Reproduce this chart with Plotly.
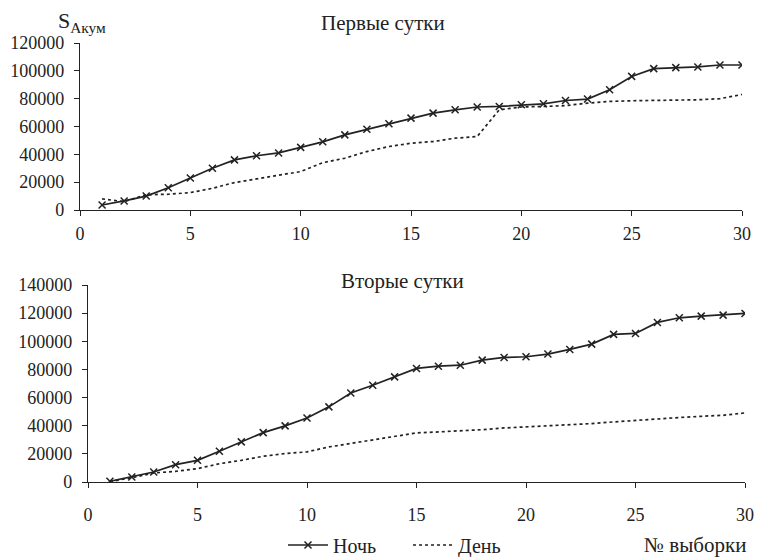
import plotly.graph_objects as go

x_vals = list(range(1, 31))

night_day1 = [3600, 6500, 10000, 16000, 23000, 30000, 36000, 39000, 41000, 45000,
              49000, 54000, 58000, 62000, 66000, 69600, 72000, 74000, 74400, 75600,
              76300, 78700, 79700, 86400, 96000, 101600, 102300, 102800, 104200, 104200]
day_day1 = [8000, 6000, 11000, 11300, 12500, 15600, 19700, 22300, 25200, 27600,
            34000, 37200, 42000, 45600, 48000, 49200, 51600, 52800, 72000, 74000,
            74400, 75000, 76800, 78000, 78500, 78700, 79200, 79200, 80000, 83000]

night_day2 = [500, 3600, 7100, 12300, 15400, 21800, 28500, 35100, 39900, 45500,
              53400, 63300, 68800, 74700, 80700, 82300, 83000, 86600, 88500, 89000,
              90900, 94200, 98000, 104900, 105600, 113400, 116700, 117900, 118600, 119800]
day_day2 = [300, 3000, 6400, 7600, 9500, 13000, 15400, 18300, 20200, 21400,
            24900, 27300, 29700, 32000, 34900, 35600, 36300, 37200, 38400, 39100,
            39900, 40300, 41500, 42700, 43900, 44600, 45800, 46700, 47400, 49100]

x_ticks = [0, 5, 10, 15, 20, 25, 30]
y_ticks_top = [0, 20000, 40000, 60000, 80000, 100000, 120000]
y_ticks_bot = [0, 20000, 40000, 60000, 80000, 100000, 120000, 140000]

FONT = "Liberation Serif, DejaVu Serif, Times New Roman, serif"
INK = "#222222"

fig = go.Figure()

night_style = dict(mode="lines+markers", line=dict(color=INK, width=1.7),
                   marker=dict(symbol="x-thin", size=7, line=dict(color=INK, width=1.5)))
day_style = dict(mode="lines", line=dict(color=INK, width=1.7, dash="dot"))

fig.add_trace(go.Scatter(x=x_vals, y=night_day1, name="Ночь", xaxis="x", yaxis="y",
                         showlegend=True, **night_style))
fig.add_trace(go.Scatter(x=x_vals, y=day_day1, name="День", xaxis="x", yaxis="y",
                         showlegend=True, **day_style))
fig.add_trace(go.Scatter(x=x_vals, y=night_day2, name="Ночь", xaxis="x2", yaxis="y2",
                         showlegend=False, **night_style))
fig.add_trace(go.Scatter(x=x_vals, y=day_day2, name="День", xaxis="x2", yaxis="y2",
                         showlegend=False, **day_style))

W, H = 757, 557

def xd(a, b):
    return [a / W, b / W]

def yd(top, bottom):
    return [1 - bottom / H, 1 - top / H]

axis_common = dict(showgrid=False, zeroline=False, showline=True, linecolor=INK,
                   linewidth=1.3, ticks="outside", ticklen=5, tickcolor=INK,
                   tickformat="d",
                   tickfont=dict(family=FONT, size=18, color=INK))

fig.update_layout(
    width=W, height=H,
    margin=dict(l=0, r=0, t=0, b=0, autoexpand=False),
    paper_bgcolor="white", plot_bgcolor="white",
    font=dict(family=FONT, size=18, color=INK),
    xaxis=dict(domain=xd(80, 742), range=[0, 30], tickvals=x_ticks, anchor="y",
               ticklabelstandoff=2, **axis_common),
    yaxis=dict(domain=yd(43, 210), range=[0, 120000], tickvals=y_ticks_top, anchor="x",
               ticklabelstandoff=6, **axis_common),
    xaxis2=dict(domain=xd(88, 745), range=[0, 30], tickvals=x_ticks, anchor="y2",
                ticklabelstandoff=11, **axis_common),
    yaxis2=dict(domain=yd(285, 482), range=[0, 140000], tickvals=y_ticks_bot, anchor="x2",
                ticklabelstandoff=6, **axis_common),
    legend=dict(orientation="h", x=283 / W, y=1 - 545 / H, xanchor="left", yanchor="middle",
                font=dict(family=FONT, size=20, color=INK), bgcolor="rgba(0,0,0,0)",
                itemwidth=40, tracegroupgap=0, entrywidth=70, entrywidthmode="pixels"),
    showlegend=True,
)

fig.add_annotation(text="Первые сутки", x=383 / W, y=1 - 23 / H, xref="paper", yref="paper",
                   yanchor="middle", showarrow=False, font=dict(family=FONT, size=21, color=INK))
fig.add_annotation(text="Вторые сутки", x=402 / W, y=1 - 281 / H, xref="paper", yref="paper",
                   yanchor="middle", showarrow=False, font=dict(family=FONT, size=21, color=INK))
fig.add_annotation(text="S<sub>Акум</sub>", x=56 / W, y=1 - 22 / H, xref="paper", yref="paper",
                   xanchor="left", yanchor="middle", showarrow=False,
                   font=dict(family=FONT, size=22, color=INK))
fig.add_annotation(text="№ выборки", x=748 / W, y=1 - 545 / H, xref="paper", yref="paper",
                   xanchor="right", yanchor="middle", showarrow=False,
                   font=dict(family=FONT, size=21, color=INK))

fig.write_html("out.html")
